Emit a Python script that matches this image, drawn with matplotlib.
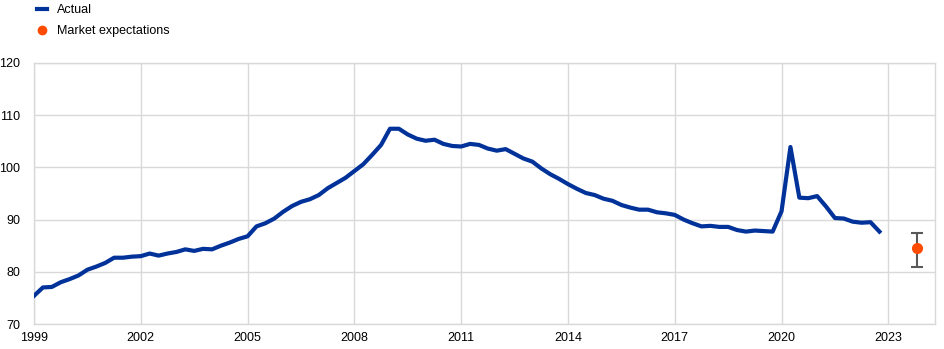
import matplotlib

matplotlib.use("Agg")

import matplotlib.pyplot as plt
import numpy as np
from matplotlib.lines import Line2D

BLUE = "#003299"
ORANGE = "#FF4B00"
GRID = "#D9D9D9"

plt.rcParams["font.family"] = ["Liberation Sans", "DejaVu Sans"]

# quarterly series, 1999 Q1 - 2022 Q4
start_year = 1999
actual = [
    75.4, 77.0, 77.1, 78.0, 78.6, 79.3, 80.4, 81.0,
    81.7, 82.7, 82.7, 82.9, 83.0, 83.5, 83.1, 83.5,
    83.8, 84.3, 84.0, 84.4, 84.3, 85.0, 85.6, 86.3,
    86.8, 88.7, 89.3, 90.2, 91.5, 92.6, 93.4, 93.9,
    94.7, 96.0, 97.0, 98.0, 99.3, 100.6, 102.4, 104.3,
    107.4, 107.4, 106.3, 105.5, 105.1, 105.3, 104.5, 104.1,
    104.0, 104.5, 104.3, 103.6, 103.2, 103.5, 102.6, 101.7,
    101.1, 99.8, 98.7, 97.8, 96.8, 95.9, 95.1, 94.7,
    94.0, 93.6, 92.8, 92.3, 91.9, 91.9, 91.4, 91.2,
    90.9, 90.0, 89.3, 88.7, 88.8, 88.6, 88.6, 88.0,
    87.7, 87.9, 87.8, 87.7, 91.6, 103.9, 94.2, 94.1,
    94.5, 92.5, 90.3, 90.2, 89.6, 89.4, 89.5, 87.7,
]
dates = start_year + np.arange(len(actual)) / 4

expect_date = 2023.8
expect_mid = 84.5
expect_low = 81.0
expect_high = 87.4

year_ticks = [1999, 2002, 2005, 2008, 2011, 2014, 2017, 2020, 2023]
value_ticks = [70, 80, 90, 100, 110, 120]

fig = plt.figure(figsize=(9.45, 3.49), dpi=100)
ax = fig.add_axes([0.036, 0.0716, 0.953, 0.748])

ax.plot(dates, actual, color=BLUE, linewidth=3.0, solid_joinstyle="round", zorder=3)
ax.errorbar(
    [expect_date], [expect_mid],
    yerr=[[expect_mid - expect_low], [expect_high - expect_mid]],
    fmt="none", ecolor="#595959", elinewidth=1.5, capsize=4, capthick=1.5, zorder=3,
)
ax.plot([expect_date], [expect_mid], "o", color=ORANGE, markersize=7, zorder=4)

ax.set_xlim(1999, 2024.3)
ax.set_ylim(70, 120)
ax.set_xticks(year_ticks)
ax.set_yticks(value_ticks)
ax.grid(True, color=GRID, linewidth=1.0)
ax.set_axisbelow(True)
for spine in ax.spines.values():
    spine.set_color(GRID)
    spine.set_linewidth(1.0)
ax.tick_params(length=0, labelsize=9, colors="black", pad=6)
ax.tick_params(axis="y", pad=10)

handles = [
    Line2D([], [], color=BLUE, linewidth=3),
    Line2D([], [], marker="o", color=ORANGE, linestyle="none", markersize=6),
]
fig.legend(
    handles, ["Actual", "Market expectations"],
    loc="upper left", bbox_to_anchor=(0.027, 1.02), frameon=False,
    fontsize=9, handlelength=0.8, handletextpad=0.8, labelspacing=0.7,
)

fig.savefig("out.png", dpi=100)
